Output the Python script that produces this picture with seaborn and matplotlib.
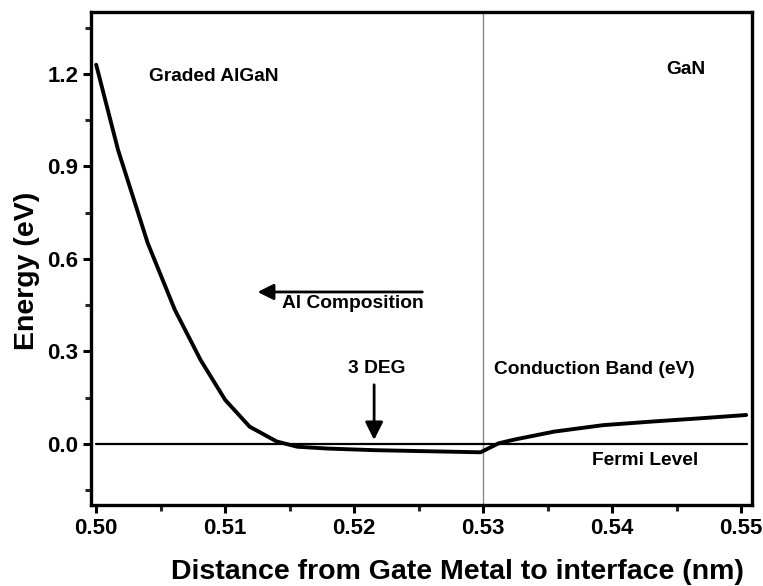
import matplotlib
matplotlib.use("Agg")
import matplotlib.pyplot as plt
import seaborn as sns
import pandas as pd
from matplotlib.ticker import MultipleLocator

# Data
distance_nm = [0.500, 0.5017, 0.5040, 0.5061, 0.5081, 0.5100, 0.5119, 0.5140,
               0.5156, 0.5180, 0.5215, 0.5250, 0.5298, 0.5312, 0.5324, 0.5355,
               0.5393, 0.5432, 0.5471, 0.5504]
energy_ev = [1.23, 0.953, 0.651, 0.435, 0.272, 0.143, 0.056, 0.008,
             -0.009, -0.015, -0.020, -0.023, -0.027, 0.002, 0.014, 0.040,
             0.061, 0.073, 0.084, 0.094]
fermi_x = [0.500, 0.5505]
fermi_y = [0.0, 0.0]
interface_x = 0.53

x_ticks = [0.50, 0.51, 0.52, 0.53, 0.54, 0.55]
y_ticks = [0.0, 0.3, 0.6, 0.9, 1.2]

sns.set_theme(style="white")
plt.rcParams['font.family'] = ['Liberation Sans', 'DejaVu Sans']
plt.rcParams['font.weight'] = 'bold'

df = pd.DataFrame({"x": distance_nm, "y": energy_ev})
fermi = pd.DataFrame({"x": fermi_x, "y": fermi_y})

fig = plt.figure(figsize=(7.63, 5.86), dpi=100)
ax = fig.add_axes([0.1193, 0.1382, 0.9856 - 0.1193, 0.9795 - 0.1382])

ax.axvline(interface_x, color="#888888", lw=1.0, zorder=1)
sns.lineplot(data=fermi, x="x", y="y", ax=ax, color="black", lw=1.6, zorder=2)
sns.lineplot(data=df, x="x", y="y", ax=ax, color="black", lw=2.8, zorder=3)

ax.set_xlim(0.4996, 0.55085)
ax.set_ylim(-0.198, 1.401)
ax.set_xticks(x_ticks)
ax.set_xticklabels([f"{v:.2f}" for v in x_ticks])
ax.set_yticks(y_ticks)
ax.set_yticklabels([f"{v:.1f}" for v in y_ticks])
ax.xaxis.set_minor_locator(MultipleLocator(0.005))
ax.yaxis.set_minor_locator(MultipleLocator(0.15))

for s in ax.spines.values():
    s.set_linewidth(2.4)
    s.set_color("black")

ax.tick_params(axis="both", which="major", direction="out", length=6, width=2.2,
               labelsize=16, colors="black", labelcolor="black",
               bottom=True, left=True, top=False, right=False, pad=3)
ax.tick_params(axis="both", which="minor", direction="out", length=4, width=2.2,
               bottom=True, left=True, top=False, right=False)
for lab in ax.get_xticklabels() + ax.get_yticklabels():
    lab.set_fontweight("bold")

ax.set_xlabel("Distance from Gate Metal to interface (nm)", fontsize=20.5,
              fontweight="bold", color="black", va="center")
ax.set_ylabel("Energy (eV)", fontsize=20.5, fontweight="bold", color="black", va="center")
ax.xaxis.set_label_coords(0.555, -0.136)
ax.yaxis.set_label_coords(-0.097, 0.475)

tk = dict(fontsize=13.8, fontweight="bold", color="black", ha="center", va="center")
ax.text(0.50915, 1.193, "Graded AlGaN", **tk)
ax.text(0.54574, 1.213, "GaN", **tk)
ax.text(0.5199, 0.454, "Al Composition", **tk)
ax.text(0.52175, 0.246, "3 DEG", **tk)
ax.text(0.5386, 0.240, "Conduction Band (eV)", **tk)
ax.text(0.5426, -0.055, "Fermi Level", **tk)

ax.annotate("", xy=(0.5123, 0.493), xytext=(0.5255, 0.493),
            arrowprops=dict(arrowstyle="-|>", color="black", lw=2, mutation_scale=24))
ax.annotate("", xy=(0.52155, 0.004), xytext=(0.52155, 0.201),
            arrowprops=dict(arrowstyle="-|>", color="black", lw=2, mutation_scale=27))

fig.savefig("out.png", dpi=100)
